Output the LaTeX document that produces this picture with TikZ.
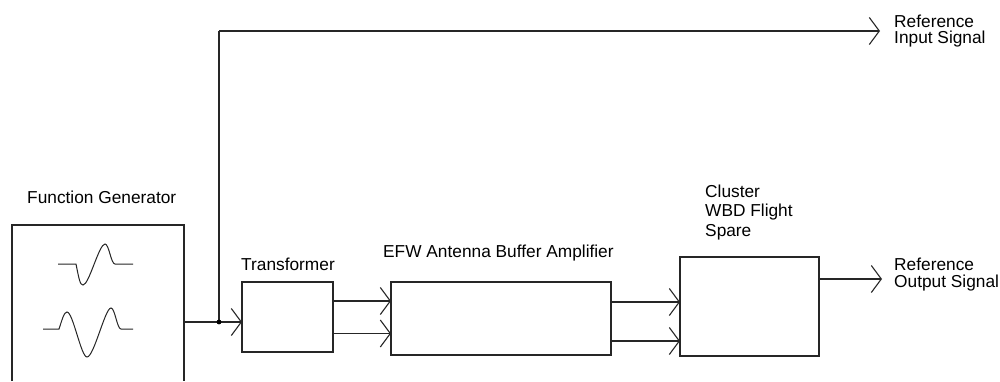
\documentclass[tikz,border=0pt]{standalone}
\usepackage{fontspec}
\setmainfont{Liberation Sans}
\usetikzlibrary{arrows.meta}
\begin{document}
\begin{tikzpicture}[x=1pt,y=-1pt,
  wire/.style={line width=1.3pt, draw=black!85},
  arr/.style={wire, -{Straight Barb[length=10pt,width=27pt,line width=1.1pt]}},
  blk/.style={draw=black!85, line width=1.3pt, inner sep=0pt, outer sep=0pt},
  lbl/.style={inner sep=0pt, anchor=base west, align=left, font=\fontsize{17.3}{16.5}\selectfont},
  wide/.style={font=\fontsize{17.3}{19.5}\selectfont},
  wave/.style={line width=1pt, draw=black!85}]
\useasboundingbox (0,0) rectangle (1000,381);
\fill[white] (0,0) rectangle (1000,381);

% Function generator (open at the bottom edge)
\draw[wire] (12,381) -- (12,225) -- (184,225) -- (184,381);
\coordinate (fgout) at (184,322);
\node[lbl] (fglbl) at (27,203) {Function Generator};

% waveforms
\draw[wave] (58,264) -- (76,264) .. controls (79,279) and (80,285) .. (83,285)
  .. controls (89,285) and (99,244) .. (105,244)
  .. controls (109,244) and (111,264) .. (115,264) -- (133,264);
\draw[wave] (43,329) -- (59,329) .. controls (62,320) and (64,312) .. (67,312)
  .. controls (73,312) and (81,357) .. (87,357)
  .. controls (94,357) and (105,308) .. (111,308)
  .. controls (115,308) and (117,329) .. (121,329) -- (133,329);

% blocks
\node[blk, minimum width=91pt, minimum height=70pt] (tr) at (287.5,317) {};
\node[blk, minimum width=220pt, minimum height=73pt] (efw) at (501,318.5) {};
\node[blk, minimum width=139pt, minimum height=99pt] (cl) at (749.5,306.5) {};

\node[lbl] (trlbl) at (241,270) {Transformer};
\node[lbl] (efwlbl) at (383,257) {EFW Antenna Buffer Amplifier};
% base anchor of a multi-line node = baseline of its last line
\node[lbl, wide] (cllbl) at (705,236) {Cluster\\WBD Flight\\Spare};

% junction and reference input line
\coordinate (jn) at (219,322);
\coordinate (refin) at (880,31);
\coordinate (corner) at (219,31);
\draw[arr] (fgout) -- (fgout -| tr.west);
\draw[wire] (jn) -- (corner);
\draw[arr] (corner) -- (refin);
\fill[black] (jn) circle (2.4pt);
\node[lbl] (refinlbl) at (894,43.5) {Reference\\Input Signal};

% transformer -> EFW
\coordinate (t1) at (333,301);
\coordinate (t2) at (333,333.5);
\draw[arr] (t1) -- (t1 -| efw.west);
\draw[arr] (t2) -- (t2 -| efw.west);
% EFW -> cluster
\coordinate (e1) at (611,302);
\coordinate (e2) at (611,341);
\draw[arr] (e1) -- (e1 -| cl.west);
\draw[arr] (e2) -- (e2 -| cl.west);
% cluster output
\coordinate (refout) at (882,279);
\draw[arr] (cl.east |- refout) -- (refout);
\node[lbl] (refoutlbl) at (894,287) {Reference\\Output Signal};
\end{tikzpicture}
\end{document}
